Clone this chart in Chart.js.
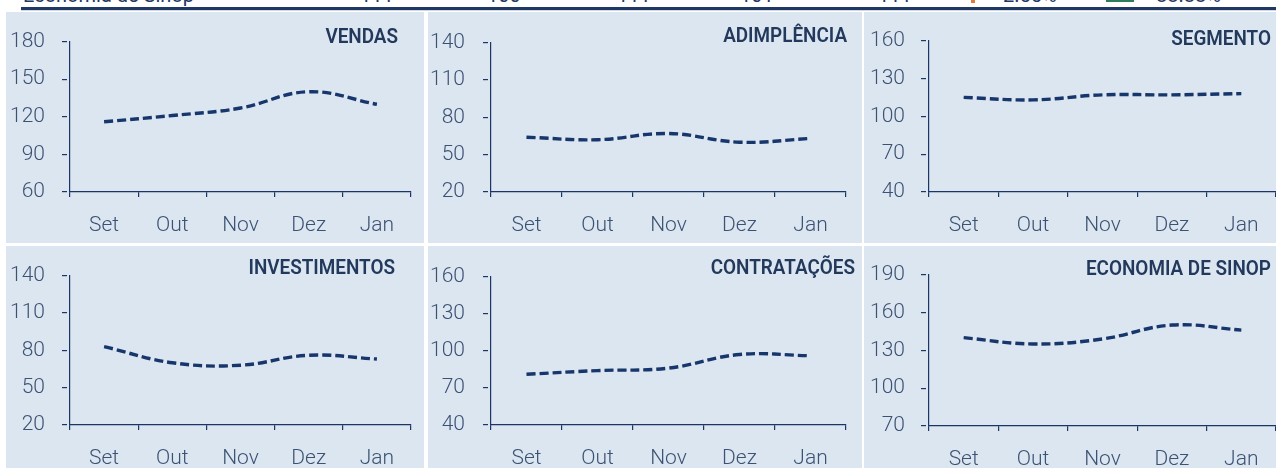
<!DOCTYPE html>
<html>
<head>
<meta charset="utf-8">
<script src="https://cdn.jsdelivr.net/npm/chart.js@4/dist/chart.umd.min.js"></script>
<style>
  html, body { margin:0; padding:0; background:#ffffff; }
  body { width:1276px; height:468px; position:relative; overflow:hidden; font-family: Roboto, "Open Sans", sans-serif; }
  .panel { position:absolute; background:#dce6f1; }
  .panel canvas { position:absolute; left:0; top:0; }
  .hdr { position:absolute; top:-15px; font-size:20px; line-height:20px; color:#1f3864; white-space:nowrap; }
</style>
</head>
<body>
<script>
// ---- data ----
const months = ['Set', 'Out', 'Nov', 'Dez', 'Jan'];

const vendas        = [116, 121, 127, 140, 130];
const adimplencia   = [64, 62, 67, 60, 63];
const segmento      = [115, 113, 117, 117, 118];
const investimentos = [83, 70, 68, 76, 73];
const contratacoes  = [81, 84, 86, 97, 96];
const economia      = [140, 135, 139, 150, 146];

const vendasTicks        = [60, 90, 120, 150, 180];
const adimplenciaTicks   = [20, 50, 80, 110, 140];
const segmentoTicks      = [40, 70, 100, 130, 160];
const investimentosTicks = [20, 50, 80, 110, 140];
const contratacoesTicks  = [40, 70, 100, 130, 160];
const economiaTicks      = [70, 100, 130, 160, 190];

const titles = ['VENDAS', 'ADIMPLÊNCIA', 'SEGMENTO', 'INVESTIMENTOS', 'CONTRATAÇÕES', 'ECONOMIA DE SINOP'];

const headerTexts = ['Economia de Sinop', '111', '100', '111', '101', '111', '2.55%', '88.88%'];

// ---- layout / style (not data) ----
const NAVY = '#1a3566';
const LINE_DARK = '#17366b';
const LINE_LIGHT = '#93a7c7';
const TICK_TXT = '#3c5273';
const TITLE_TXT = '#22395c';

const panels = [
  {left:6,   top:12,  w:418, h:231, yW:64, padR:13, padT:26, xH:51, yPad:17, tRight:392, tBase:31},
  {left:428, top:12,  w:434, h:231, yW:63, padR:16, padT:26, xH:51, yPad:18, tRight:419, tBase:30},
  {left:864, top:12,  w:412, h:231, yW:65, padR:0,  padT:25, xH:51, yPad:16, tRight:407, tBase:33},
  {left:6,   top:246, w:418, h:222, yW:64, padR:13, padT:24, xH:43, yPad:17, tRight:389, tBase:28},
  {left:428, top:246, w:434, h:222, yW:63, padR:16, padT:24, xH:43, yPad:18, tRight:427, tBase:28},
  {left:864, top:246, w:412, h:222, yW:65, padR:0,  padT:24, xH:42, yPad:16, tRight:407, tBase:29}
];

const seriesList = [vendas, adimplencia, segmento, investimentos, contratacoes, economia];
const tickList = [vendasTicks, adimplenciaTicks, segmentoTicks, investimentosTicks, contratacoesTicks, economiaTicks];

// header strip
const headerX = [23, 360, 487, 617, 740, 878, 1003, 1156];
headerTexts.forEach((t, i) => {
  const d = document.createElement('div');
  d.className = 'hdr';
  d.style.left = headerX[i] + 'px';
  d.textContent = t;
  document.body.appendChild(d);
});
(function(){
  const mk = (css) => { const d = document.createElement('div'); d.style.cssText = 'position:absolute;' + css; document.body.appendChild(d); };
  mk('left:971px;top:0px;width:4px;height:3px;background:#e07b39;');
  mk('left:1106px;top:0px;width:28px;height:2px;background:#2e7d5b;');
  mk('left:21px;top:7px;width:1255px;height:2.5px;background:#1f3864;');
  mk('left:21px;top:10px;width:1255px;height:1px;background:#cfd8e3;');
})();

const titlePlugin = {
  id: 'panelTitle',
  afterDraw(chart, args, opts) {
    const ctx = chart.ctx;
    ctx.save();
    ctx.font = '600 21px Roboto, "Open Sans", sans-serif';
    ctx.fillStyle = TITLE_TXT;
    ctx.textAlign = 'right';
    ctx.textBaseline = 'alphabetic';
    ctx.translate(opts.x, opts.y);
    ctx.scale(0.9, 1);
    ctx.fillText(opts.text, 0, 0);
    ctx.restore();
  }
};

panels.forEach((p, i) => {
  const div = document.createElement('div');
  div.className = 'panel';
  div.style.left = p.left + 'px';
  div.style.top = p.top + 'px';
  div.style.width = p.w + 'px';
  div.style.height = p.h + 'px';
  const cv = document.createElement('canvas');
  cv.width = p.w; cv.height = p.h;
  cv.style.width = p.w + 'px'; cv.style.height = p.h + 'px';
  div.appendChild(cv);
  document.body.appendChild(div);

  const data = seriesList[i];
  const ticks = tickList[i];
  const tickFont = {family: 'Roboto, "Open Sans", sans-serif', size: 21, weight: '300'};

  new Chart(cv.getContext('2d'), {
    type: 'line',
    data: {
      labels: months,
      datasets: [
        {data: data, borderColor: LINE_DARK, borderWidth: 3.4, borderDash: [9, 4], tension: 0.4, pointRadius: 0, fill: false},
        {data: data, borderColor: LINE_LIGHT, borderWidth: 1, borderDash: [9, 4], tension: 0.4, pointRadius: 0, fill: false}
      ]
    },
    options: {
      responsive: false,
      animation: false,
      events: [],
      layout: {padding: {left: 0, right: p.padR, top: p.padT, bottom: 0}},
      plugins: {
        legend: {display: false},
        tooltip: {enabled: false},
        panelTitle: {text: titles[i], x: p.tRight, y: p.tBase}
      },
      scales: {
        x: {
          offset: true,
          grid: {offset: true, drawOnChartArea: false, drawTicks: true, tickLength: 5, color: NAVY, lineWidth: 1.2},
          border: {display: true, color: NAVY, width: 1.2, dash: [4, 2]},
          ticks: {font: tickFont, color: TICK_TXT, padding: 16, maxRotation: 0, autoSkip: false},
          afterFit(s) { s.height = p.xH; }
        },
        y: {
          min: ticks[0],
          max: ticks[ticks.length - 1],
          grid: {drawOnChartArea: false, drawTicks: true, tickLength: 8, color: NAVY, lineWidth: 1.2, tickBorderDash: [5, 3]},
          border: {display: true, color: NAVY, width: 1.2, dash: [4, 2]},
          ticks: {font: tickFont, color: TICK_TXT, padding: p.yPad},
          afterBuildTicks(s) { s.ticks = ticks.map(v => ({value: v})); },
          afterFit(s) { s.width = p.yW; }
        }
      }
    },
    plugins: [titlePlugin]
  });
});
</script>
</body>
</html>
